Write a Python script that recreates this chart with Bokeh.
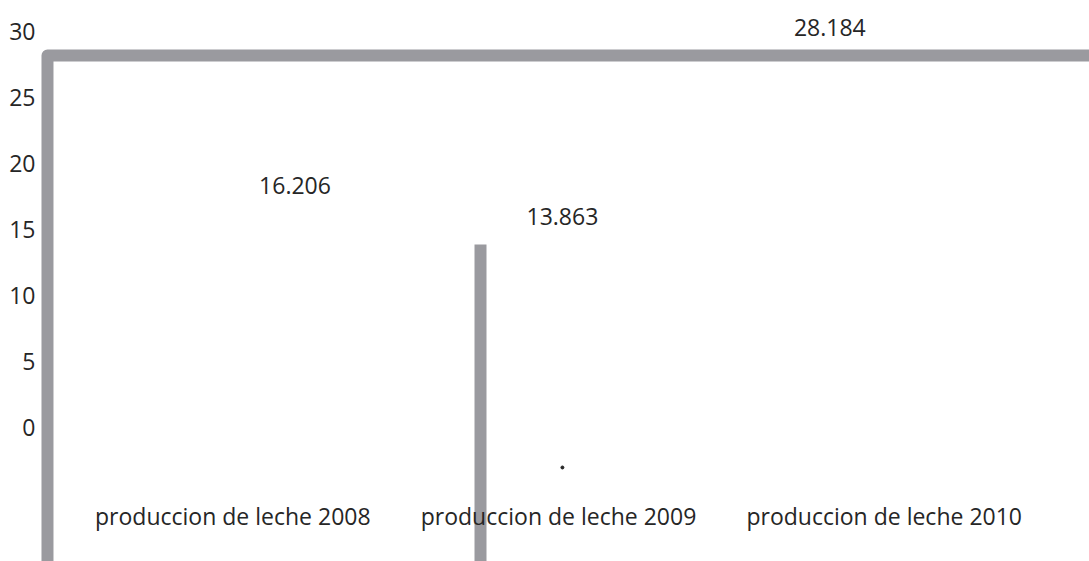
from bokeh.plotting import figure
from bokeh.models import Range1d, FixedTicker, ColumnDataSource
from bokeh.core.properties import value
from bokeh.embed import file_html
from bokeh.resources import INLINE

# ---- data ----
categories = ["produccion de leche 2008", "produccion de leche 2009", "produccion de leche 2010"]
values = [16.206, 13.863, 28.184]
value_labels = ["16.206", "13.863", "28.184"]
y_ticks = [0, 5, 10, 15, 20, 25, 30]

# ---- layout / style ----
FONT = "Open Sans"
FONT_SIZE = "23px"
TEXT_COLOR = "#262626"
GRAY = "#9a9a9f"
X_START, X_END = -0.5966, 2.6303
Y_START, Y_END = -10.152, 32.348
LEFT_LINE_X = -0.569
RIGHT_END_X = 3.0
BOTTOM_Y = -12.0
BAR_OFFSET = -0.2395          # 2009 bar offset from its category slot
LABEL_X0, LABEL_STEP = 0.191, 0.821
LABEL_LIFT = 2.13
CAT_LABEL_Y = -6.74
DOT_Y = -3.03

p = figure(width=1089, height=561, output_backend="svg", toolbar_location=None,
           x_range=Range1d(X_START, X_END), y_range=Range1d(Y_START, Y_END),
           min_border_left=38, min_border_right=0, min_border_top=0, min_border_bottom=0)
p.outline_line_color = None
p.xgrid.visible = False
p.ygrid.visible = False
p.xaxis.visible = False
p.background_fill_color = "white"
p.border_fill_color = "white"

ya = p.yaxis[0]
ya.ticker = FixedTicker(ticks=y_ticks)
ya.axis_line_color = None
ya.major_tick_line_color = None
ya.minor_tick_line_color = None
ya.major_tick_in = 0
ya.major_tick_out = 0
ya.major_label_standoff = 3
ya.major_label_text_font = FONT
ya.major_label_text_font_size = FONT_SIZE
ya.major_label_text_color = TEXT_COLOR

n = len(categories)
slots = list(range(n))

# 2010 series line: rises at the left edge and runs across at its value
p.line(x=[LEFT_LINE_X, LEFT_LINE_X, RIGHT_END_X], y=[BOTTOM_Y, values[2], values[2]],
       line_color=GRAY, line_width=12, line_join="round", line_cap="butt")

# 2009 thin bar
p.segment(x0=[slots[1] + BAR_OFFSET], y0=[BOTTOM_Y], x1=[slots[1] + BAR_OFFSET], y1=[values[1]],
          line_color=GRAY, line_width=12, line_cap="butt")

# value labels
src_v = ColumnDataSource(dict(
    x=[LABEL_X0 + i * LABEL_STEP for i in slots],
    y=[v + LABEL_LIFT for v in values],
    t=value_labels))
p.text(x="x", y="y", text="t", source=src_v, text_font=value(FONT), text_font_size=FONT_SIZE,
       text_color=TEXT_COLOR, text_align="center", text_baseline="alphabetic")

# category labels
src_c = ColumnDataSource(dict(x=slots, y=[CAT_LABEL_Y] * n, t=categories))
p.text(x="x", y="y", text="t", source=src_c, text_font=value(FONT), text_font_size=FONT_SIZE,
       text_color=TEXT_COLOR, text_align="center", text_baseline="alphabetic")

# small stray dot under the 2009 label
p.scatter(x=[LABEL_X0 + LABEL_STEP], y=[DOT_Y], size=3, color=TEXT_COLOR)

open("out.html", "w").write(file_html(p, INLINE))
